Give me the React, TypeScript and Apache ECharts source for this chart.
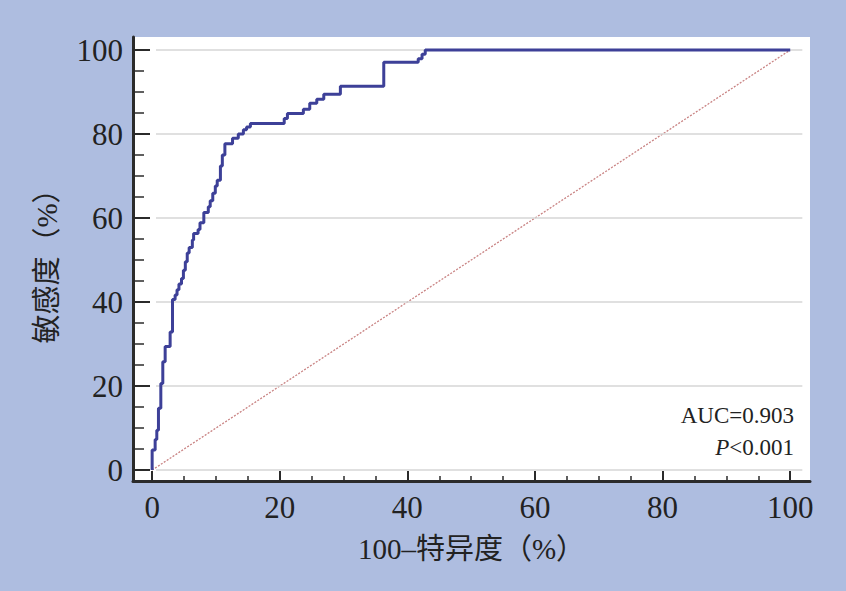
import React, { useEffect, useRef } from 'react';
import * as echarts from 'echarts';

// ROC step points: x = end of horizontal run (100 - specificity), y = sensitivity
const fpr = [0, 0.47, 0.73, 0.99, 1.36, 1.67, 2.04, 2.82, 3.19, 3.6, 3.9, 4.2, 4.6, 4.9, 5.2, 5.5, 5.8, 6.3, 6.5, 7.2, 7.5, 8.1, 8.8, 9.1, 9.5, 9.9, 10.2, 10.7, 11.0, 11.4, 12.6, 13.5, 14.3, 14.8, 15.4, 20.7, 21.2, 23.7, 24.7, 25.8, 26.9, 29.5, 36.3, 41.7, 42.3, 42.8, 100];
const tpr = [0, 4.8, 7.3, 9.5, 14.7, 20.6, 25.8, 29.4, 32.9, 40.6, 41.7, 42.9, 44.3, 45.6, 47.6, 49.6, 51.7, 53.0, 54.8, 56.3, 57.3, 58.9, 61.3, 62.7, 64.1, 65.9, 67.6, 69.0, 72.4, 75.0, 77.7, 79.0, 80.0, 81.0, 81.7, 82.5, 83.7, 84.9, 85.9, 87.3, 88.3, 89.5, 91.4, 97.1, 97.9, 99.0, 100];
const diagonal = [[0, 0], [100, 100]];

const majorTicks = [0, 20, 40, 60, 80, 100];
const minorTicks = [0, 5, 10, 15, 20, 25, 30, 35, 40, 45, 50, 55, 60, 65, 70, 75, 80, 85, 90, 95, 100];

const xTitle = '100–特异度（%）';
const yTitle = '敏感度（%）';
const aucText = 'AUC=0.903';
const pText = '<0.001';

const serif = "'Liberation Serif', 'Noto Sans CJK SC', serif";

const App: React.FC = () => {
  const chartRef = useRef<HTMLDivElement>(null);

  useEffect(() => {
    const chart = echarts.init(chartRef.current!, undefined, { renderer: 'svg' });

    const xRange = { min: -3, max: 103.1 };
    const yRange = { min: -2.6, max: 103.1 };
    const axisColor = '#2b2b2b';

    const options = {
      animation: false,
      backgroundColor: '#aebde0',
      grid: {
        left: 133,
        right: 36,
        top: 37,
        bottom: 110,
        show: true,
        backgroundColor: '#ffffff',
        borderWidth: 0,
      },
      xAxis: [
        {
          type: 'value',
          position: 'bottom',
          ...xRange,
          name: xTitle,
          nameLocation: 'middle',
          nameGap: 53,
          nameTextStyle: { fontFamily: serif, fontSize: 29, color: '#222' },
          axisLine: { show: true, onZero: false, lineStyle: { color: axisColor, width: 3 } },
          axisTick: { show: true, inside: true, length: 10, customValues: majorTicks, lineStyle: { color: axisColor, width: 2 } },
          axisLabel: { customValues: majorTicks, margin: 11, fontFamily: serif, fontSize: 31, color: '#222' },
          splitLine: { show: false },
        },
        {
          type: 'value',
          position: 'bottom',
          ...xRange,
          axisLine: { show: false, onZero: false },
          axisTick: { show: true, inside: true, length: 5, customValues: minorTicks, lineStyle: { color: axisColor, width: 1.5 } },
          axisLabel: { show: false },
          splitLine: { show: false },
        },
      ],
      yAxis: [
        {
          type: 'value',
          position: 'left',
          ...yRange,
          name: yTitle,
          nameLocation: 'middle',
          nameGap: 72,
          nameRotate: 90,
          nameTextStyle: { fontFamily: serif, fontSize: 29, color: '#222' },
          axisLine: { show: true, onZero: false, lineStyle: { color: axisColor, width: 3 } },
          axisTick: { show: true, inside: true, length: 17, customValues: majorTicks, lineStyle: { color: axisColor, width: 2 } },
          axisLabel: { customValues: majorTicks, margin: 10, fontFamily: serif, fontSize: 31, color: '#222' },
          splitLine: { show: false },
        },
        {
          type: 'value',
          position: 'left',
          ...yRange,
          axisLine: { show: false, onZero: false },
          axisTick: { show: true, inside: true, length: 11, customValues: minorTicks, lineStyle: { color: axisColor, width: 1.5 } },
          axisLabel: { show: false },
          splitLine: { show: false },
        },
      ],
      series: [
        {
          type: 'line',
          name: 'grid',
          data: [],
          silent: true,
          z: 1,
          markLine: {
            silent: true,
            symbol: 'none',
            label: { show: false },
            lineStyle: { color: '#d6d6d6', width: 1.5, type: 'solid' },
            data: majorTicks.map((v) => [{ coord: [0.6, v] }, { coord: [101.9, v] }]),
          },
        },
        {
          type: 'line',
          name: 'reference',
          data: diagonal,
          showSymbol: false,
          symbol: 'none',
          silent: true,
          lineStyle: { color: '#c98383', width: 1.3, type: [2, 1.5] },
          z: 2,
        },
        {
          type: 'line',
          name: 'ROC',
          data: fpr.map((x, i) => [x, tpr[i]]),
          step: 'start',
          showSymbol: false,
          symbol: 'none',
          silent: true,
          clip: false,
          lineStyle: { color: '#3d4098', width: 3 },
          z: 5,
        },
      ],
      graphic: [
        {
          type: 'text',
          right: 846 - 794,
          top: 404,
          style: { text: aucText, font: `23px ${serif}`, fill: '#222', textAlign: 'right' },
        },
        {
          type: 'text',
          right: 846 - 794,
          top: 436,
          style: {
            text: `{i|P}${pText}`,
            font: `23px ${serif}`,
            fill: '#222',
            rich: { i: { fontStyle: 'italic', fontFamily: serif, fontSize: 23, fill: '#222' } },
          },
        },
      ],
    };

    chart.setOption(options);

    return () => {
      chart.dispose();
    };
  }, []);

  return (
    <div
      ref={chartRef}
      style={{ position: 'fixed', left: 0, top: 0, width: '846px', height: '591px' }}
    />
  );
};

export default App;
